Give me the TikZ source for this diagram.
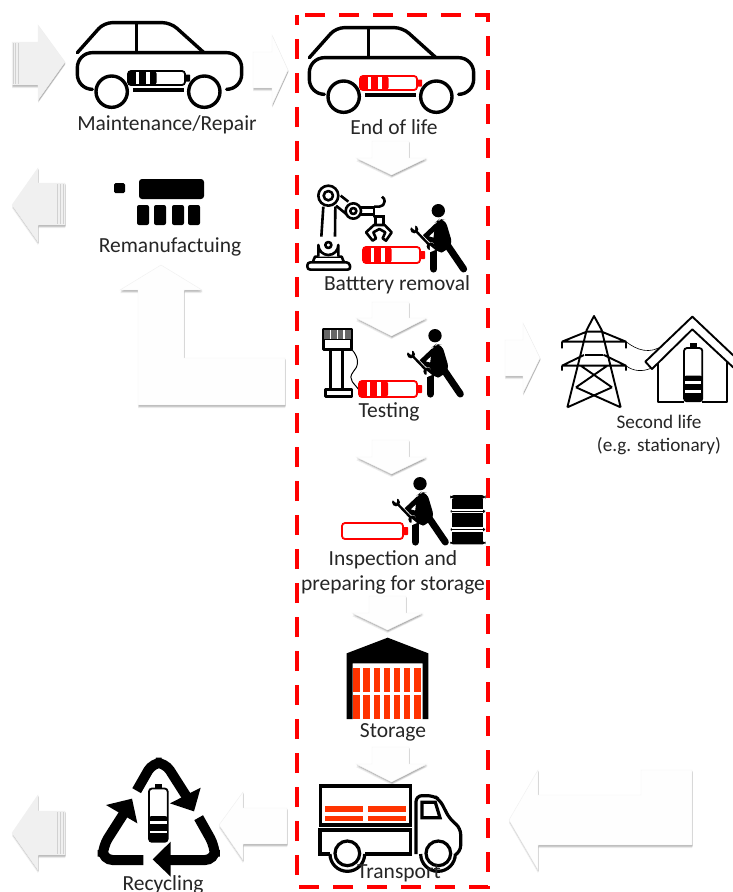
\documentclass[tikz,border=0pt]{standalone}
\usepackage{fontspec}
\setmainfont{Carlito}
\definecolor{lab}{HTML}{262626}
\definecolor{grar}{HTML}{F0F0F0}
\definecolor{whar}{HTML}{FEFEFE}
\definecolor{cellred}{HTML}{FF3300}
\definecolor{pgray}{HTML}{666666}
\tikzset{
  lbl/.style={text=lab,font=\fontsize{21.5}{25}\selectfont,inner sep=0pt,align=center},
  lblsmall/.style={text=lab,font=\fontsize{19.2}{23}\selectfont,inner sep=0pt,align=center},
  softshad/.style={preaction={fill=black,opacity=.07,transform canvas={shift={(0pt,-3pt)}}},
    preaction={fill=black,opacity=.12,transform canvas={shift={(.5pt,-2pt)}}},
    preaction={fill=black,opacity=.16,transform canvas={shift={(.5pt,-1pt)}}}},
  whitearrow/.style={softshad,fill=whar,draw=black!6,line width=.4pt},
  greyarrow/.style={softshad,fill=grar,draw=black!6,line width=.4pt},
  zm/.style={x=.33333pt,y=-.33333pt},
  iconline/.style={draw=black,line width=3.4pt,line join=round},
  truckline/.style={draw=black,line width=3.2pt,line join=miter},
  thinline/.style={draw=black,line width=2.6pt,line join=round},
  pyline/.style={draw=black,line width=1.9pt,line join=round},
}
% battery in pixel coords: left, top, width, height, colour, show cells
\newcommand{\hbatt}[6]{%
  \begin{scope}[x=1pt,y=-1pt,shift={(#1pt,-#2pt)}]
    \fill[#5,rounded corners=.6pt] (#3,#4*.25) rectangle (#3+5,#4*.75);
    \fill[white,draw=#5,line width=1.8pt,rounded corners=3pt] (0,0) rectangle (#3,#4);
    \ifnum#6=1
      \fill[#5,rounded corners=2.5pt] (0,0) rectangle (#3*.5,#4);
      \fill[white] (#3*.14,.8) rectangle (#3*.19,#4-.8);
      \fill[white] (#3*.31,.8) rectangle (#3*.38,#4-.8);
    \fi
  \end{scope}}
% car, zoom coordinates
\newcommand{\carIcon}[3]{%
  \begin{scope}[zm,shift={(#1pt,-#2pt)}]
    \draw[iconline,line cap=round,rounded corners=15pt]
      (275,268) -- (232,268) -- (232,158) -- (725,158) -- (725,268) -- (680,268);
    \draw[iconline,line cap=round,rounded corners=8pt]
      (232,158) -- (312,68) -- (512,68) -- (612,158);
    \draw[iconline] (410,68) -- (410,158);
    \draw[iconline] (335,275) circle[radius=47];
    \draw[iconline] (613,275) circle[radius=47];
    \draw[iconline] (400,270) -- (552,270);
  \end{scope}
  \hbatt{\the\numexpr#1+128\relax}{\the\numexpr#2+71\relax}{57}{14}{#3}{1}}
% worker, zoom coordinates
\newcommand{\workerIcon}[2]{%
  \begin{scope}[zm,shift={(#1pt,-#2pt)}]
    \fill (105,47) circle[radius=20];
    \fill[rounded corners=6pt] (96,82) -- (108,72) -- (126,74) -- (148,148) -- (128,168) -- (104,176) -- (88,150) -- cycle;
    \draw[black,line width=7.2pt,line cap=round] (91,165) -- (91,222);
    \draw[black,line width=7pt,line cap=round,line join=round] (132,150) -- (181,222);
    \draw[black,line width=5pt,line cap=round,line join=round] (100,92) -- (62,128) -- (100,138);
    \draw[white,line width=4pt] (38,108) -- (78,150);
    \draw[black,line width=2.4pt] (36,106) -- (80,152);
    \fill (33,103) circle[radius=12];
    \fill (82,154) circle[radius=12];
    \fill[white] (18,92) -- (35,106) -- (36,86) -- cycle;
    \fill[white] (96,165) -- (80,152) -- (79,172) -- cycle;
  \end{scope}}
\newcommand{\blockpoly}[2]{\path[#1] #2 -- cycle;}
% tall battery in zoom coordinates
\newcommand{\tallbatt}[4]{% left top(body) width height
  \begin{scope}[zm,shift={(#1pt,-#2pt)}]
    \fill (#3*.3,-14) rectangle (#3*.7,2);
    \draw[black,line width=1.8pt,fill=white,rounded corners=3pt] (0,0) rectangle (#3,#4);
    \fill[rounded corners=2pt] (0,#4*.52) rectangle (#3,#4);
    \fill[white] (3,#4*.61) rectangle (#3-3,#4*.67);
    \fill[white] (3,#4*.79) rectangle (#3-3,#4*.84);
  \end{scope}}
\begin{document}
\begin{tikzpicture}[x=1pt,y=-1pt]
\useasboundingbox (0,0) rectangle (733,892);
\fill[white] (0,0) rectangle (733,892);

% block arrows
\blockpoly{greyarrow}{(12,42) -- (38,42) -- (38,25) -- (65,62) -- (38,100) -- (38,85) -- (12,85)}
\foreach \xx in {13,15,18}{\draw[black!18,line width=.6pt] (\xx,43) -- (\xx,84);}
\blockpoly{whitearrow}{(253,52) -- (272,52) -- (272,35) -- (288,70) -- (272,105) -- (272,88) -- (253,88)}
\blockpoly{greyarrow}{(65,183) -- (38,183) -- (38,168) -- (12,205) -- (38,242) -- (38,225) -- (65,225)}
\foreach \xx in {57,60,63}{\draw[black!18,line width=.6pt] (\xx,184) -- (\xx,224);}
\blockpoly{whitearrow}{(138,405) -- (138,290) -- (120,290) -- (161,265) -- (202,290) -- (184,290) -- (184,358) -- (285,358) -- (285,405)}
\blockpoly{whitearrow}{(505,340) -- (523,340) -- (523,323) -- (540,358) -- (523,393) -- (523,376) -- (505,376)}
\blockpoly{whitearrow}{(509,820) -- (538,770) -- (538,795) -- (641,795) -- (641,770) -- (692,770) -- (692,845) -- (538,845) -- (538,870)}
\blockpoly{whitearrow}{(219,825) -- (243,792) -- (243,808) -- (287,808) -- (287,844) -- (243,844) -- (243,860)}
\blockpoly{greyarrow}{(65,811) -- (38,811) -- (38,795) -- (12,833) -- (38,870) -- (38,855) -- (65,855)}
\foreach \xx in {57,60,63}{\draw[black!18,line width=.6pt] (\xx,812) -- (\xx,854);}
\foreach \xa/\xb/\xc/\xd/\ya/\yb/\yc in {372/409/356/427/141/158/175, 372/409/356/427/302/318/336, 372/409/356/427/440/457/474, 369/406/352/423/596/613/630, 372/409/356/427/747/764/782}{
  \path[whitearrow] (\xa,\ya) -- (\xb,\ya) -- (\xb,\yb) -- (\xd,\yb) -- ({(\xc+\xd)/2},\yc) -- (\xc,\yb) -- (\xa,\yb) -- cycle;
}

% dashed frame
\draw[red,line width=4.5pt,dash pattern=on 20pt off 14pt,dash phase=26pt] (297,15) -- (488,15) -- (488,887) -- (297,887) -- cycle;

% cars
\carIcon{0}{0}{black}
\carIcon{232}{5}{red}

% remanufacturing
\fill[rounded corners=1.5pt] (114,183) rectangle (125,193);
\fill[rounded corners=3pt] (139,179) rectangle (204,199);
\foreach \xx in {137,154,172,188}{\fill[rounded corners=2pt] (\xx,205) rectangle (\xx+12,225);}

% robot
\begin{scope}[zm,shift={(300pt,-175pt)}]
  \draw[thinline,rounded corners=3pt,fill=white] (22,284) -- (22,262) -- (148,262) -- (152,284) -- cycle;
  \draw[thinline] (38,262) -- (45,245) -- (125,245) -- (132,262);
  \draw[thinline,fill=white] (55,245) -- (55,210) arc[start angle=180,end angle=0,radius=30] -- (115,245);
  \draw[thinline] (85,210) circle[radius=9];
  \draw[thinline] (64,185) -- (70,95);
  \draw[thinline] (105,185) -- (106,95);
  \draw[thinline,fill=white] (85,62) circle[radius=30];
  \draw[thinline] (85,62) circle[radius=14];
  \draw[thinline] (122,62) -- (145,80);
  \draw[thinline] (108,92) -- (140,118);
  \draw[thinline,fill=white] (160,108) circle[radius=23];
  \draw[thinline] (160,108) circle[radius=9];
  \draw[thinline] (183,98) -- (222,98);
  \draw[thinline] (183,118) -- (222,118);
  \draw[thinline] (222,95) -- (238,95) arc[start angle=90,end angle=-60,radius=16];
  \draw[thinline] (222,95) -- (222,125) -- (255,125);
  \draw[thinline] (226,125) -- (226,150);
  \draw[thinline] (250,125) -- (250,150);
  \draw[thinline,fill=white] (222,150) -- (254,150) -- (275,172) -- (258,197) -- (248,190) -- (256,172) -- (238,162) -- (220,172) -- (228,190) -- (218,197) -- (198,172) -- cycle;
\end{scope}
\workerIcon{403.3}{195}
\hbatt{363}{247}{57}{16}{red}{1}

% tester
\begin{scope}[zm,shift={(290pt,-300pt)}]
  \draw[thinline,fill=white] (100,87) rectangle (185,148);
  \fill[pgray] (102,89) rectangle (183,118);
  \foreach \xx in {120,140,160}{\fill[white] (\xx,90) rectangle (\xx+4,116);}
  \draw[black,line width=1.5pt] (100,118) -- (185,118);
  \draw[thinline] (122,148) -- (122,268);
  \draw[thinline] (158,148) -- (158,268);
  \draw[thinline,fill=white] (106,268) rectangle (186,290);
  \draw[black,line width=1pt] (185,148) .. controls (210,175) and (205,200) .. (190,215) .. controls (170,240) and (195,250) .. (208,272);
\end{scope}
\workerIcon{400}{320}
\hbatt{359}{381}{58}{16}{red}{1}

% inspection
\workerIcon{385}{468}
\hbatt{342}{523}{61}{16}{red}{0}
\begin{scope}[zm,shift={(290pt,-300pt)}]
  \fill[rounded corners=4pt] (480,585) rectangle (587,597);
  \fill (487,597) rectangle (580,628);
  \fill (487,640) rectangle (580,682);
  \fill[rounded corners=3pt] (482,628) rectangle (585,640);
  \fill[white] (487,628) rectangle (580,632);
  \fill[white] (487,636) rectangle (580,640);
  \fill[rounded corners=3pt] (482,682) rectangle (585,695);
  \fill[white] (487,682) rectangle (580,686);
  \fill[white] (487,691) rectangle (580,695);
  \fill (487,695) rectangle (580,725);
  \fill[rounded corners=3pt] (480,724) rectangle (587,733);
\end{scope}

% storage
\begin{scope}[zm,shift={(290pt,-600pt)}]
  \fill (170,357) -- (170,160) -- (293,113) -- (415,160) -- (415,357) -- (398,357) -- (398,190) -- (188,190) -- (188,357) -- cycle;
  \foreach \xx in {190,220,251,281,312,342,373}{
    \fill[cellred] (\xx,205) rectangle (\xx+19,277);
    \fill[cellred] (\xx,285) rectangle (\xx+19,357);
  }
\end{scope}

% truck
\begin{scope}[zm,shift={(290pt,-600pt)}]
  \draw[truckline] (91,558) rectangle (361,675);
  \foreach \xx in {106,235}{
    \fill[cellred] (\xx,618) rectangle (\xx+114,636);
    \fill[cellred] (\xx,648) rectangle (\xx+114,662);
  }
  \draw[truckline] (120,762) -- (90,762) -- (90,690) -- (361,690) -- (361,762) -- (225,762);
  \draw[truckline] (120,762) arc[start angle=180,end angle=0,radius=52];
  \draw[truckline,fill=white] (172,760) circle[radius=37];
  \draw[truckline,rounded corners=6pt] (378,762) -- (378,587) -- (430,587) -- (450,600) -- (478,655) -- (512,685) -- (512,755) -- (500,762);
  \draw[truckline] (392,762) arc[start angle=180,end angle=0,radius=52];
  \draw[truckline,fill=white] (445,760) circle[radius=37];
  \draw[truckline] (396,607) -- (436,607) -- (450,653) -- (396,653) -- cycle;
\end{scope}

% recycling
\begin{scope}[zm,shift={(0pt,-740pt)}]
  \draw[black,line width=10pt,rounded corners=9pt] (410,152) -- (458,68) -- (495,68) -- (560,170);
  \fill (602,143) -- (582,214) -- (510,190) -- cycle;
  \draw[black,line width=10pt,rounded corners=10pt] (430,360) -- (308,360) -- (308,320) -- (375,215);
  \fill (318,195) -- (396,176) -- (412,250) -- cycle;
  \draw[black,line width=10pt,rounded corners=10pt] (596,233) -- (645,320) -- (645,360) -- (500,360);
  \fill (512,305) -- (458,358) -- (512,410) -- cycle;
\end{scope}
\tallbatt{149}{788.5}{56}{160}

% pylon
\begin{scope}[zm,shift={(490pt,-300pt)}]
  \draw[pyline]
    (232,322) -- (290,90) -- (312,48) -- (335,90) -- (392,322)
    (290,95) -- (335,95)
    (216,125) -- (408,125) (216,125) -- (290,95) (408,125) -- (335,95)
    (216,197) -- (408,197) (216,197) -- (282,165) (408,197) -- (342,165) (285,165) -- (340,165)
    (216,125) -- (216,145) (408,125) -- (408,145) (216,197) -- (216,212) (408,197) -- (408,212)
    (272,197) -- (366,262) (352,197) -- (258,262) (258,262) -- (392,322) (366,262) -- (232,322);
  \draw[black,line width=.6pt] (408,125) .. controls (440,150) and (480,165) .. (520,135);
  \draw[black,line width=.6pt] (408,197) .. controls (430,215) and (460,215) .. (482,205);
  \draw[pyline,fill=white] (466,185) -- (607,50) -- (736,172) -- (736,208) -- (607,88) -- (486,207) -- cycle;
  \draw[pyline] (505,188) -- (505,305) -- (582,305) (712,185) -- (712,305) -- (637,305);
\end{scope}
\tallbatt{684}{348}{55}{160}

% labels
\node[lbl] (maint) at (167,125) {Maintenance/Repair};
\node[lbl] (reman) at (170,247) {Remanufactuing};
\node[lbl] (eol) at (394,127) {End of life};
\node[lbl] (removal) at (397,285) {Batttery removal};
\node[lbl] (testing) at (389,412) {Testing};
\node[lbl] (inspect) at (393,572) {Inspection and\\preparing for storage};
\node[lbl] (storage) at (393,732) {Storage};
\node[lbl] (transport) at (399,873) {Transport};
\node[lbl] (recyc) at (163,885) {Recycling};
\node[lblsmall] (second) at (659,435) {Second life\\(e.g. stationary)};
\end{tikzpicture}
\end{document}
